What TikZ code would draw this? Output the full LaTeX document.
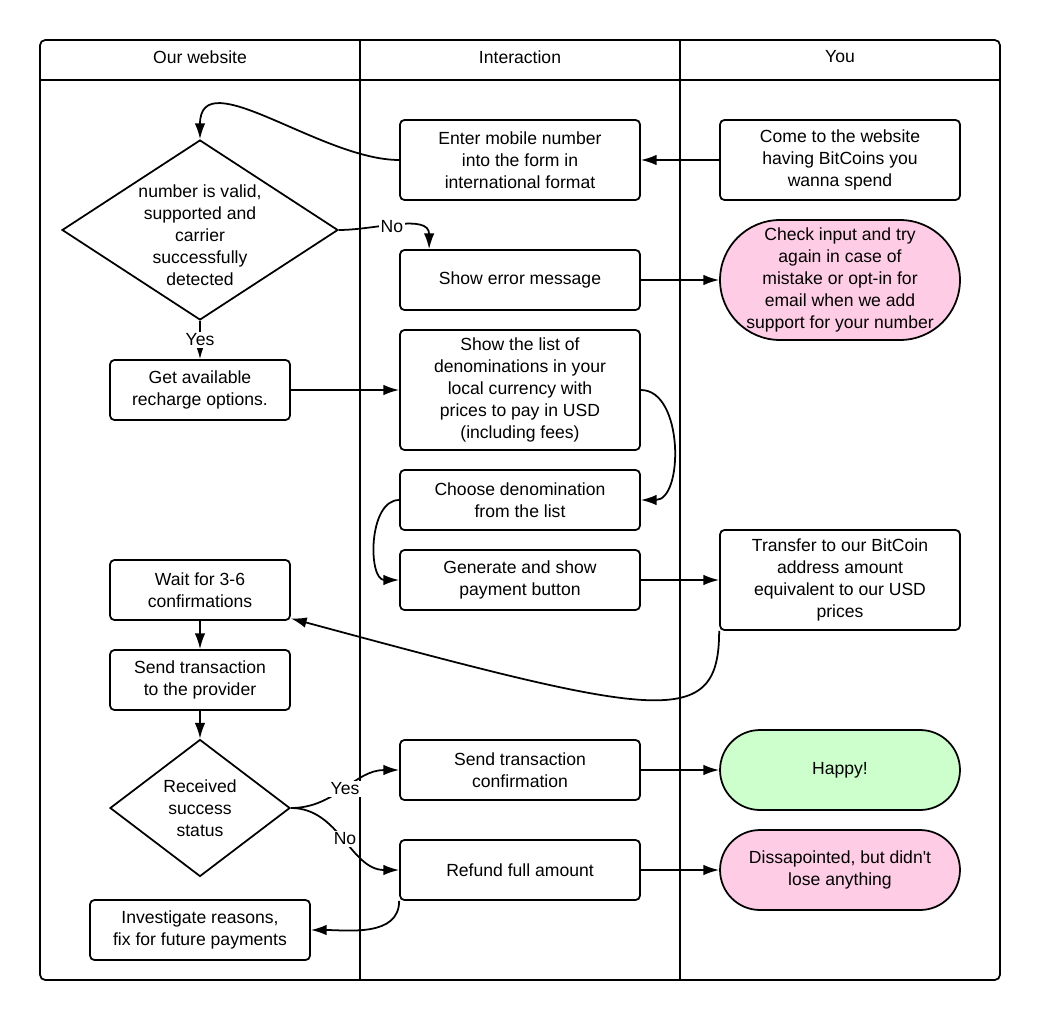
\documentclass[tikz,border=0pt]{standalone}
\usepackage{fontspec}
\setmainfont{Liberation Sans}
\usepackage{tikz}
\usetikzlibrary{arrows.meta}
\usetikzlibrary{shapes.geometric}
\tikzset{box/.style = {draw, line width=1pt, rounded corners=2.5pt, align=center,
                       minimum width=4.8cm, minimum height=1.2cm, inner sep=1pt},
         endbox/.style = {draw, line width=1pt, rounded corners=0.8cm, align=center,
                          minimum width=4.8cm, minimum height=1.6cm, inner sep=1pt},
         decision/.style = {draw, line width=1pt, diamond, inner sep=0pt},
         flow/.style = {line width=1pt, -{Latex[length=9pt, width=6pt]}},
         lane/.style = {line width=1pt},
         lbl/.style = {fill=white, inner sep=1pt}}
\definecolor{mpink}{RGB}{255, 204, 230}
\definecolor{mgreen}{RGB}{204, 255, 204}

\begin{document}
\begin{tikzpicture}[x=0.02cm, y=0.02cm, font=\fontsize{10}{12.5}\selectfont]
      \useasboundingbox (0, 0) rectangle (1040, -1020);
      % swim lanes
      \draw [lane, rounded corners=3pt] (40, -40) rectangle (1000, -980);
      \draw [lane] (40, -80) -- (1000, -80);
      \draw [lane] (360, -40) -- (360, -980);
      \draw [lane] (680, -40) -- (680, -980);
      \node (hweb) at (200, -57) {Our website};
      \node (hinter) at (520, -57) {Interaction};
      \node (hyou) at (840, -57) {You};

      \node [box, minimum height=1.6cm] (enter) at (520, -160) {Enter mobile number\\into the form in\\international format};
      \node [box, minimum height=1.6cm] (come) at (840, -160) {Come to the website\\having BitCoins you\\wanna spend};
      \node [decision, minimum width=5.52cm, minimum height=3.6cm,
             label={[align=center, yshift=-0.1cm]center:{number is valid,\\supported and\\carrier\\successfully\\detected}}] (valid) at (200, -230) {};
      \node [box] (error) at (520, -280) {Show error message};
      \node [endbox, fill=mpink, minimum height=2.4cm, rounded corners=1.2cm] (check) at (840, -280) {Check input and try\\again in case of\\mistake or opt-in for\\email when we add\\support for your number};
      \node [box, minimum width=3.6cm] (options) at (200, -390) {Get available\\recharge options.};
      \node [box, minimum height=2.4cm] (list) at (520, -390) {Show the list of\\denominations in your\\local currency with\\prices to pay in USD\\(including fees)};
      \node [box] (choose) at (520, -500) {Choose denomination\\from the list};
      \node [box] (generate) at (520, -580) {Generate and show\\payment button};
      \node [box, minimum height=2cm] (transfer) at (840, -580) {Transfer to our BitCoin\\address amount\\equivalent to our USD\\prices};
      \node [box, minimum width=3.6cm] (wait) at (200, -590) {Wait for 3-6\\confirmations};
      \node [box, minimum width=3.6cm] (send) at (200, -680) {Send transaction\\to the provider};
      \node [decision, minimum width=3.6cm, minimum height=2.74cm,
             label={[align=center]center:{Received\\success\\status}}] (received) at (200, -808) {};
      \node [box] (sendconf) at (520, -770) {Send transaction\\confirmation};
      \node [endbox, fill=mgreen] (happy) at (840, -770) {Happy!};
      \node [box] (refund) at (520, -870) {Refund full amount};
      \node [endbox, fill=mpink] (disap) at (840, -870) {Dissapointed, but didn\textquotesingle t\\lose anything};
      \node [box, minimum width=4.4cm] (investigate) at (200, -930) {Investigate reasons,\\fix for future payments};

      \draw [flow] (come) -- (enter);
      \draw [flow] (enter.west) to [out=180, in=90] (valid.north);
      \draw [flow] (valid.east) to [out=0, in=90] node [lbl, pos=0.45] {No} ([xshift=0.6cm]error.north west);
      \draw [flow] (valid.south) -- node [lbl] {Yes} (options.north);
      \draw [flow] (error) -- (check);
      \draw [flow] (options) -- (list);
      \draw [flow] (list.east) to [out=0, in=0] (choose.east);
      \draw [flow] (choose.west) to [out=180, in=180] (generate.west);
      \draw [flow] (generate) -- (transfer);
      \draw [flow] (transfer.south west) .. controls +(0, -100) and +(370, -100) .. ([yshift=0.05cm]wait.south east);
      \draw [flow] (wait) -- (send);
      \draw [flow] (send) -- (received);
      \draw [flow] (received.east) to [out=0, in=180] node [lbl] {Yes} (sendconf.west);
      \draw [flow] (received.east) to [out=0, in=180] node [lbl] {No} (refund.west);
      \draw [flow] (sendconf) -- (happy);
      \draw [flow] (refund) -- (disap);
      \draw [flow] (refund.south west) to [out=-90, in=0] (investigate.east);
    \end{tikzpicture}
\end{document}
